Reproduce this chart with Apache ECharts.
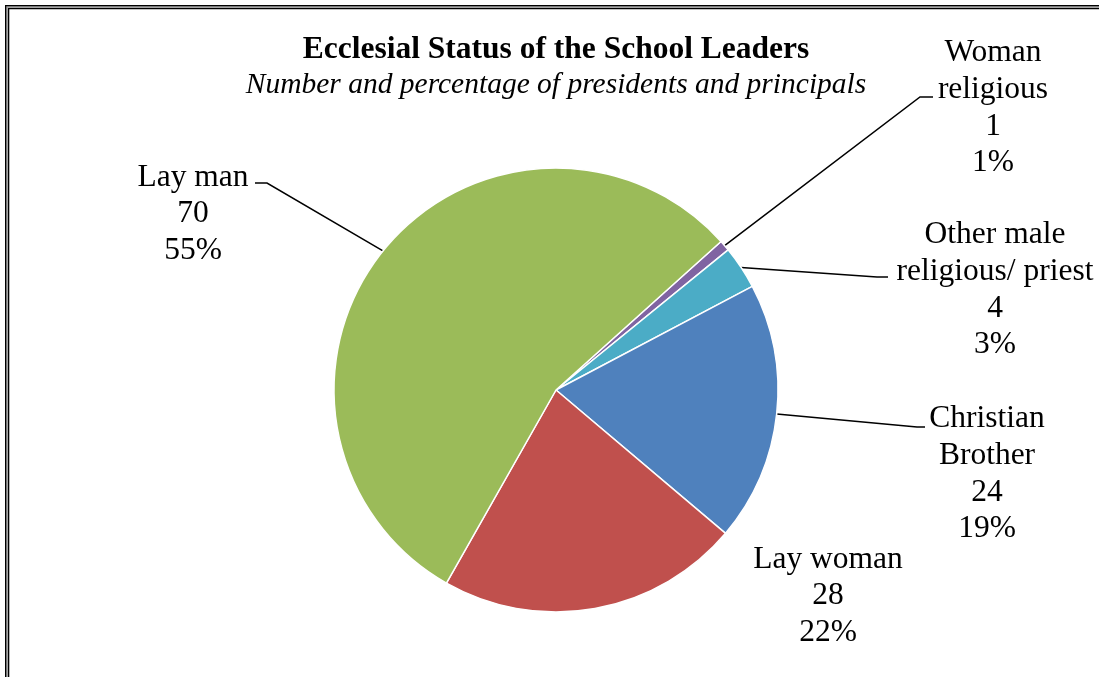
<!DOCTYPE html>
<html>
<head>
<meta charset="utf-8">
<script src="https://cdn.jsdelivr.net/npm/echarts@6/dist/echarts.min.js"></script>
<style>
  html, body { margin: 0; padding: 0; background: #fff; }
  #chart { width: 1099px; height: 677px; }
</style>
</head>
<body>
<div id="chart"></div>
<script>
// ---- data ----
const categories = ['Woman religious', 'Other male religious/ priest', 'Christian Brother', 'Lay woman', 'Lay man'];
const labelText = ['Woman\nreligious', 'Other male\nreligious/ priest', 'Christian\nBrother', 'Lay woman', 'Lay man'];
const values = [1, 4, 24, 28, 70];
const colors = ['#8064A2', '#4BACC6', '#4F81BD', '#C0504D', '#9BBB59'];
const titleText = 'Ecclesial Status of the School Leaders';
const subtitleText = 'Number and percentage of presidents and principals';

// ---- label layout (label block centre + leader line knee/end points) ----
const labelPos = [
  { x: 993, y: 108, line: [[920, 97], [933, 97]] },
  { x: 995, y: 290, line: [[877, 277], [888, 277]] },
  { x: 987, y: 474, line: [[917, 427], [925, 427]] },
  { x: 828, y: 596, line: null },
  { x: 193, y: 214, line: [[267, 183], [255, 183]] }
];

const total = values.reduce((a, b) => a + b, 0);
const FONT = '"Liberation Serif", "Times New Roman", serif';

const chart = echarts.init(document.getElementById('chart'), null, { renderer: 'canvas' });

const data = categories.map((name, i) => ({
  name: name,
  value: values[i],
  itemStyle: { color: colors[i] },
  labelLine: { show: labelPos[i].line !== null }
}));

chart.setOption({
  animation: false,
  backgroundColor: '#ffffff',
  graphic: [
    { type: 'rect', z: -10, shape: { x: 5, y: 5, width: 1200, height: 1000 }, style: { fill: '#000' }, silent: true },
    { type: 'rect', z: -9, shape: { x: 6.3, y: 6.3, width: 1200, height: 1000 }, style: { fill: '#a6a6a6' }, silent: true },
    { type: 'rect', z: -8, shape: { x: 8, y: 8, width: 1200, height: 1000 }, style: { fill: '#000' }, silent: true },
    { type: 'rect', z: -7, shape: { x: 9.3, y: 9.3, width: 1200, height: 1000 }, style: { fill: '#fff' }, silent: true }
  ],
  title: {
    text: titleText,
    subtext: subtitleText,
    left: 556,
    textAlign: 'center',
    top: 33,
    itemGap: 1,
    padding: 0,
    textStyle: { fontFamily: FONT, fontWeight: 'bold', fontSize: 31.5, lineHeight: 34, color: '#000' },
    subtextStyle: { fontFamily: FONT, fontStyle: 'italic', fontSize: 29.5, lineHeight: 34, color: '#000' }
  },
  series: [{
    type: 'pie',
    center: [556, 390],
    radius: 222,
    startAngle: 42,
    clockwise: true,
    avoidLabelOverlap: false,
    data: data,
    itemStyle: { borderColor: '#ffffff', borderWidth: 1.5 },
    label: {
      show: true,
      position: 'outside',
      fontFamily: FONT,
      fontSize: 31.5,
      lineHeight: 36.6,
      color: '#000',
      align: 'center',
      formatter: function (p) {
        return labelText[p.dataIndex] + '\n' + p.value + '\n' + Math.round(p.value / total * 100) + '%';
      }
    },
    labelLine: {
      show: true,
      length: 20,
      length2: 10,
      lineStyle: { color: '#000', width: 1.5 }
    },
    labelLayout: function (params) {
      const lp = labelPos[params.dataIndex];
      const out = { x: lp.x, y: lp.y, align: 'center', verticalAlign: 'middle' };
      if (lp.line && params.labelLinePoints && params.labelLinePoints.length) {
        out.labelLinePoints = [params.labelLinePoints[0], lp.line[0], lp.line[1]];
      }
      return out;
    }
  }]
});
</script>
</body>
</html>
